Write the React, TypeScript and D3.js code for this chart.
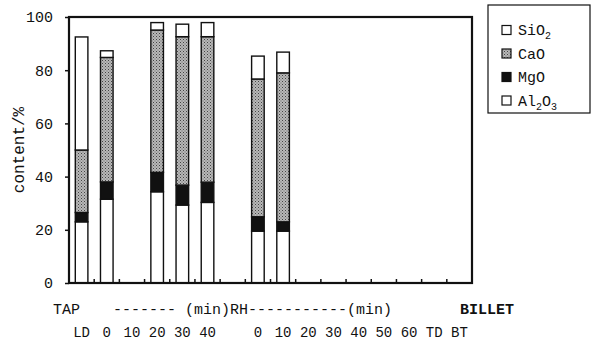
import React, { useEffect, useRef } from 'react';
import * as d3 from 'd3';

// slots along the time axis (keys unique, labels as printed)
const slotKeys = ['LD', 'T0', 'T10', 'T20', 'T30', 'T40', 'gap', 'R0', 'R10', 'R20', 'R30', 'R40', 'R50', 'R60', 'TD', 'BT'];
const slotLabels = ['LD', '0', '10', '20', '30', '40', '', '0', '10', '20', '30', '40', '50', '60', 'TD', 'BT'];

// sampled bars
const barSlots = ['LD', 'T0', 'T20', 'T30', 'T40', 'R0', 'R10'];
const al2o3 = [23, 31.5, 34.3, 29.3, 30.3, 19.5, 19.5];
const mgo = [3.5, 6.5, 7.3, 7.5, 7.6, 5.4, 3.5];
const cao = [23.5, 46.8, 53.5, 55.8, 54.7, 51.8, 56];
const sio2 = [42.5, 2.5, 2.8, 4.7, 5.3, 8.6, 7.8];

const yTicks = [0, 20, 40, 60, 80, 100];

const FONT = '"Liberation Mono", "DejaVu Sans Mono", monospace';

const App: React.FC = () => {
    const svgRef = useRef<SVGSVGElement>(null);

    useEffect(() => {
        document.body.style.margin = '0';
        if (!svgRef.current) return;
        const svg = d3.select(svgRef.current);
        svg.selectAll('*').remove();

        const left = 69, right = 472, top = 17, bottom = 283;

        const x = d3.scaleBand<string>().domain(slotKeys).range([left, right]).paddingInner(0.5).paddingOuter(0.25);
        const y = d3.scaleLinear().domain([0, 100]).range([bottom, top]);

        // dotted pattern for CaO
        const defs = svg.append('defs');
        const pat = defs.append('pattern')
            .attr('id', 'cao-dots')
            .attr('patternUnits', 'userSpaceOnUse')
            .attr('width', 3).attr('height', 3);
        pat.append('rect').attr('width', 3).attr('height', 3).attr('fill', '#b8b8b8');
        pat.append('rect').attr('x', 0).attr('y', 0).attr('width', 1).attr('height', 1).attr('fill', '#444');
        pat.append('rect').attr('x', 1.5).attr('y', 1.5).attr('width', 1).attr('height', 1).attr('fill', '#666');

        const layers = [
            { name: 'Al2O3', values: al2o3, fill: '#fff' },
            { name: 'MgO', values: mgo, fill: '#111' },
            { name: 'CaO', values: cao, fill: 'url(#cao-dots)' },
            { name: 'SiO2', values: sio2, fill: '#fff' },
        ];

        const rows = barSlots.map((slot, i) => {
            let base = 0;
            return layers.map(l => {
                const seg = { slot, y0: base, y1: base + l.values[i], fill: l.fill };
                base += l.values[i];
                return seg;
            });
        }).flat();

        svg.append('g')
            .selectAll('rect')
            .data(rows)
            .join('rect')
            .attr('x', d => x(d.slot)!)
            .attr('width', x.bandwidth())
            .attr('y', d => y(d.y1))
            .attr('height', d => y(d.y0) - y(d.y1))
            .attr('fill', d => d.fill)
            .attr('stroke', '#111')
            .attr('stroke-width', 1.4);

        // frame
        svg.append('rect')
            .attr('x', left).attr('y', top)
            .attr('width', right - left).attr('height', bottom - top)
            .attr('fill', 'none').attr('stroke', '#111').attr('stroke-width', 2.2);

        // y axis
        const yAxis = svg.append('g').attr('transform', `translate(${left},0)`)
            .call(d3.axisLeft(y).tickValues(yTicks).tickSize(4).tickPadding(12) as any);
        yAxis.select('.domain').remove();
        yAxis.selectAll('line').attr('stroke', '#111').attr('stroke-width', 1.5);
        yAxis.selectAll('text').attr('fill', '#111').style('font-family', FONT).style('font-size', '15px');

        // bottom inner ticks at slot boundaries
        const bounds = slotKeys.slice(1).map(k => x(k)! - (x.step() - x.bandwidth()) / 2);
        svg.append('g').selectAll('line')
            .data(bounds)
            .join('line')
            .attr('x1', d => d).attr('x2', d => d)
            .attr('y1', bottom).attr('y2', bottom - 4)
            .attr('stroke', '#111').attr('stroke-width', 1.5);

        // row 2 labels
        svg.append('g').selectAll('text')
            .data(slotKeys.map((k, i) => ({ k, label: slotLabels[i] })))
            .join('text')
            .attr('x', d => x(d.k)! + x.bandwidth() / 2)
            .attr('y', 337)
            .attr('text-anchor', 'middle')
            .style('font-family', FONT)
            .style('font-size', '14px')
            .attr('fill', '#111')
            .text(d => d.label);

        // row 1 labels
        const row1 = svg.append('g').style('font-family', FONT).style('font-size', '15px').attr('fill', '#111');
        row1.append('text').attr('x', 53).attr('y', 314).text('TAP');
        row1.append('text').attr('x', 113).attr('y', 314).text('------- (min)RH-----------(min)');
        row1.append('text').attr('x', 460).attr('y', 314).style('font-weight', 'bold').text('BILLET');

        // y label
        svg.append('text')
            .attr('transform', 'translate(24,150) rotate(-90)')
            .attr('text-anchor', 'middle')
            .style('font-family', FONT)
            .style('font-size', '16px')
            .attr('fill', '#111')
            .text('content/%');

        // legend
        const lg = svg.append('g');
        lg.append('rect').attr('x', 488).attr('y', 5).attr('width', 102).attr('height', 108)
            .attr('fill', '#fff').attr('stroke', '#111').attr('stroke-width', 1.2);
        const legendItems = [
            { base: 'SiO', sub: '2', tail: '', fill: '#fff' },
            { base: 'CaO', sub: '', tail: '', fill: 'url(#cao-dots)' },
            { base: 'MgO', sub: '', tail: '', fill: '#111' },
            { base: 'Al', sub: '2', tail: 'O', sub2: '3', fill: '#fff' },
        ];
        legendItems.forEach((it, i) => {
            const cy = 30 + i * 23.5;
            lg.append('rect').attr('x', 502).attr('y', cy - 4.5).attr('width', 9).attr('height', 9)
                .attr('fill', it.fill).attr('stroke', '#111').attr('stroke-width', 1.2);
            const t = lg.append('text').attr('x', 518).attr('y', cy + 5)
                .style('font-family', FONT).style('font-size', '15px').attr('fill', '#111');
            t.append('tspan').text(it.base);
            if (it.sub) t.append('tspan').attr('dy', 4).style('font-size', '10px').text(it.sub);
            if (it.tail) t.append('tspan').attr('dy', -4).text(it.tail);
            if ((it as any).sub2) t.append('tspan').attr('dy', 4).style('font-size', '10px').text((it as any).sub2);
        });
    }, []);

    return <svg ref={svgRef} width={593} height={343} style={{ display: 'block', background: '#fff' }} />;
};

export default App;
